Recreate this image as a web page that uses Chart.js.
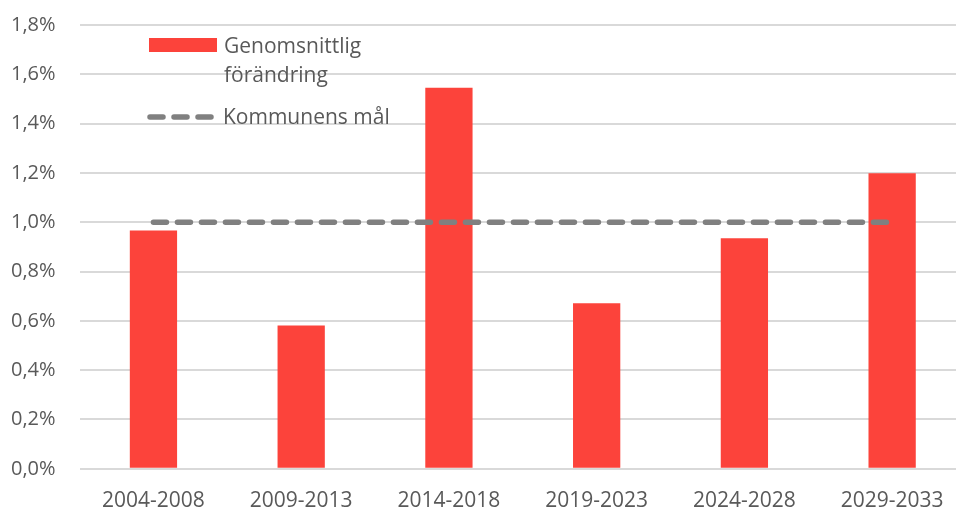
<!DOCTYPE html>
<html>
<head>
<meta charset="utf-8">
<script src="https://cdn.jsdelivr.net/npm/chart.js@4.4.1/dist/chart.umd.min.js"></script>
<style>
    body { margin: 0; background: #fff; overflow: hidden; }
    #wrap { position: relative; width: 956px; height: 511px; overflow: hidden; }
    #bar-chart { position: absolute; left: -13px; top: -11px; }
    #legend { position: absolute; left: 147px; top: 31px; font-family: 'Open Sans', sans-serif; font-size: 21px; color: #595959; }
    .leg-row { display: flex; align-items: flex-start; }
    .leg-text { line-height: 29px; }
    .swatch-bar { width: 68px; height: 14px; background: #FC433B; margin: 7px 7px 0 2px; }
    .swatch-line { width: 70px; height: 6px; margin: 12px 6px 0 0; }
</style>
</head>
<body>
<div id="wrap">
    <canvas id="bar-chart" width="979" height="541"></canvas>
    <div id="legend">
        <div class="leg-row">
            <div class="swatch-bar"></div>
            <div class="leg-text">Genomsnittlig<br>förändring</div>
        </div>
        <div class="leg-row" style="margin-top: 13px;">
            <svg class="swatch-line" width="70" height="6"><line x1="3" y1="3" x2="64" y2="3" stroke="#808080" stroke-width="5.5" stroke-linecap="round" stroke-dasharray="13 11"/></svg>
            <div class="leg-text">Kommunens mål</div>
        </div>
    </div>
</div>
<script>
/* data */
var periods = ['2004-2008', '2009-2013', '2014-2018', '2019-2023', '2024-2028', '2029-2033'];
var avgChange = [0.967, 0.581, 1.545, 0.671, 0.935, 1.199];
var goal = [1.0, 1.0, 1.0, 1.0, 1.0, 1.0];
var yTicks = [0, 0.2, 0.4, 0.6, 0.8, 1.0, 1.2, 1.4, 1.6, 1.8];

var ctx = document.getElementById('bar-chart');
var config = {
    type: 'bar',
    data: {
        labels: periods,
        datasets: [{
            type: 'line',
            label: 'Kommunens mål',
            data: goal,
            borderColor: '#808080',
            borderWidth: 5.5,
            borderDash: [13, 11],
            borderCapStyle: 'round',
            pointRadius: 0,
            fill: false,
            order: 0
        }, {
            label: 'Genomsnittlig förändring',
            data: avgChange,
            backgroundColor: '#FC433B',
            barPercentage: 0.32,
            categoryPercentage: 1,
            order: 1
        }]
    },
    options: {
        responsive: false,
        animation: false,
        layout: { padding: { left: 0, right: 0, top: 5, bottom: 4 } },
        plugins: { legend: { display: false }, tooltip: { enabled: false } },
        scales: {
            x: {
                grid: { display: false },
                border: { display: false },
                ticks: { color: '#595959', font: { family: 'Open Sans', size: 21 }, padding: 12, maxRotation: 0 }
            },
            y: {
                min: 0,
                max: 1.8,
                afterBuildTicks: function(axis){
                    axis.ticks = yTicks.map(function(v){ return { value: v }; });
                },
                grid: { color: '#D9D9D9', lineWidth: 2, drawTicks: false },
                border: { display: false },
                ticks: {
                    color: '#595959',
                    font: { family: 'Open Sans', size: 20 },
                    padding: 24,
                    callback: function(v){ return v.toFixed(1).replace('.', ',') + '%'; }
                }
            }
        }
    }
};
var barChart = new Chart(ctx, config);
</script>
</body>
</html>
